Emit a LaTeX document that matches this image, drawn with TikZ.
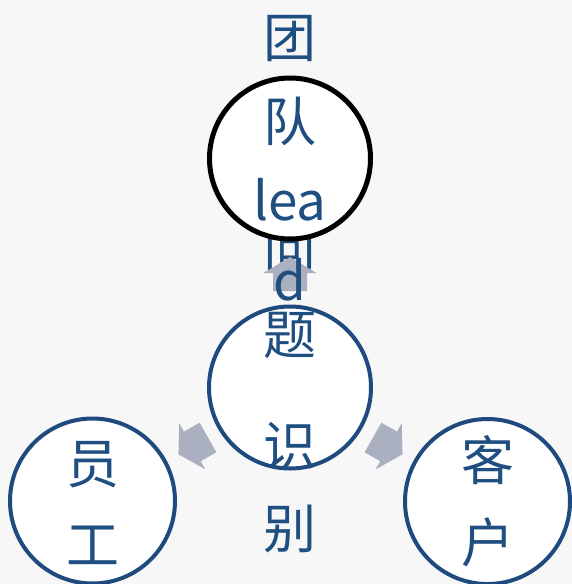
\documentclass[tikz,border=0pt]{standalone}
\usepackage{fontspec}
\setmainfont{Noto Sans CJK SC}
\definecolor{navy}{HTML}{1F4A7E}
\definecolor{txtblue}{HTML}{1F4E80}
\definecolor{arrowgray}{HTML}{AAB0BF}
\definecolor{bggray}{HTML}{F7F7F8}
\begin{document}
\begin{tikzpicture}[x=1pt,y=-1pt,
  ring/.style={circle,draw=navy,line width=4pt,fill=white,inner sep=0pt,minimum size=162pt},
  blackring/.style={ring,draw=black,line width=5pt,minimum size=161pt},
  lbl/.style={text=txtblue,font=\fontsize{53}{60}\selectfont,anchor=base,inner sep=0pt},
  blockarrow/.style={fill=arrowgray,draw=none}]
\fill[bggray] (0,0) rectangle (572,584);
\useasboundingbox (0,0) rectangle (572,584);
% middle circle
\node[ring] (mid) at (290,387.5) {};
\node[lbl] (m1) at (290,268.5) {问};
\node[lbl] (m2) at (290,354.5) {题};
\node[lbl] (m3) at (290,465.5) {识};
\node[lbl] (m4) at (290,548.5) {别};
% block arrows
\begin{scope}[shift={(290,291)},rotate=90]
  \fill[blockarrow] (0,-17) -- (18,-17) -- (18,-26.5) -- (34,0) -- (18,26.5) -- (18,17) -- (0,17) -- cycle;
\end{scope}
\begin{scope}[shift={(208,437.5)},rotate=209.6]
  \fill[blockarrow] (0,-17) -- (18,-17) -- (18,-26.5) -- (34,0) -- (18,26.5) -- (18,17) -- (0,17) -- cycle;
\end{scope}
\begin{scope}[shift={(373,437.5)},rotate=-29.6]
  \fill[blockarrow] (0,-17) -- (18,-17) -- (18,-26.5) -- (34,0) -- (18,26.5) -- (18,17) -- (0,17) -- cycle;
\end{scope}
% top circle
\node[blackring] (top) at (290,158.5) {};
\node[lbl] (t1) at (290,57.5) {团};
\node[lbl] (t2) at (290,141) {队};
\node[lbl] (t3) at (290,220) {lea};
\node[lbl] (t4) at (290,300) {d};
% bottom circles
\node[ring,minimum size=165pt] (left) at (92.5,501) {};
\node[lbl] (l1) at (92.5,483) {员};
\node[lbl] (l2) at (92.5,564.5) {工};
\node[ring,minimum size=165pt] (right) at (487.5,501.5) {};
\node[lbl] (r1) at (487.5,480.5) {客};
\node[lbl] (r2) at (487.5,562.5) {户};
\end{tikzpicture}
\end{document}
